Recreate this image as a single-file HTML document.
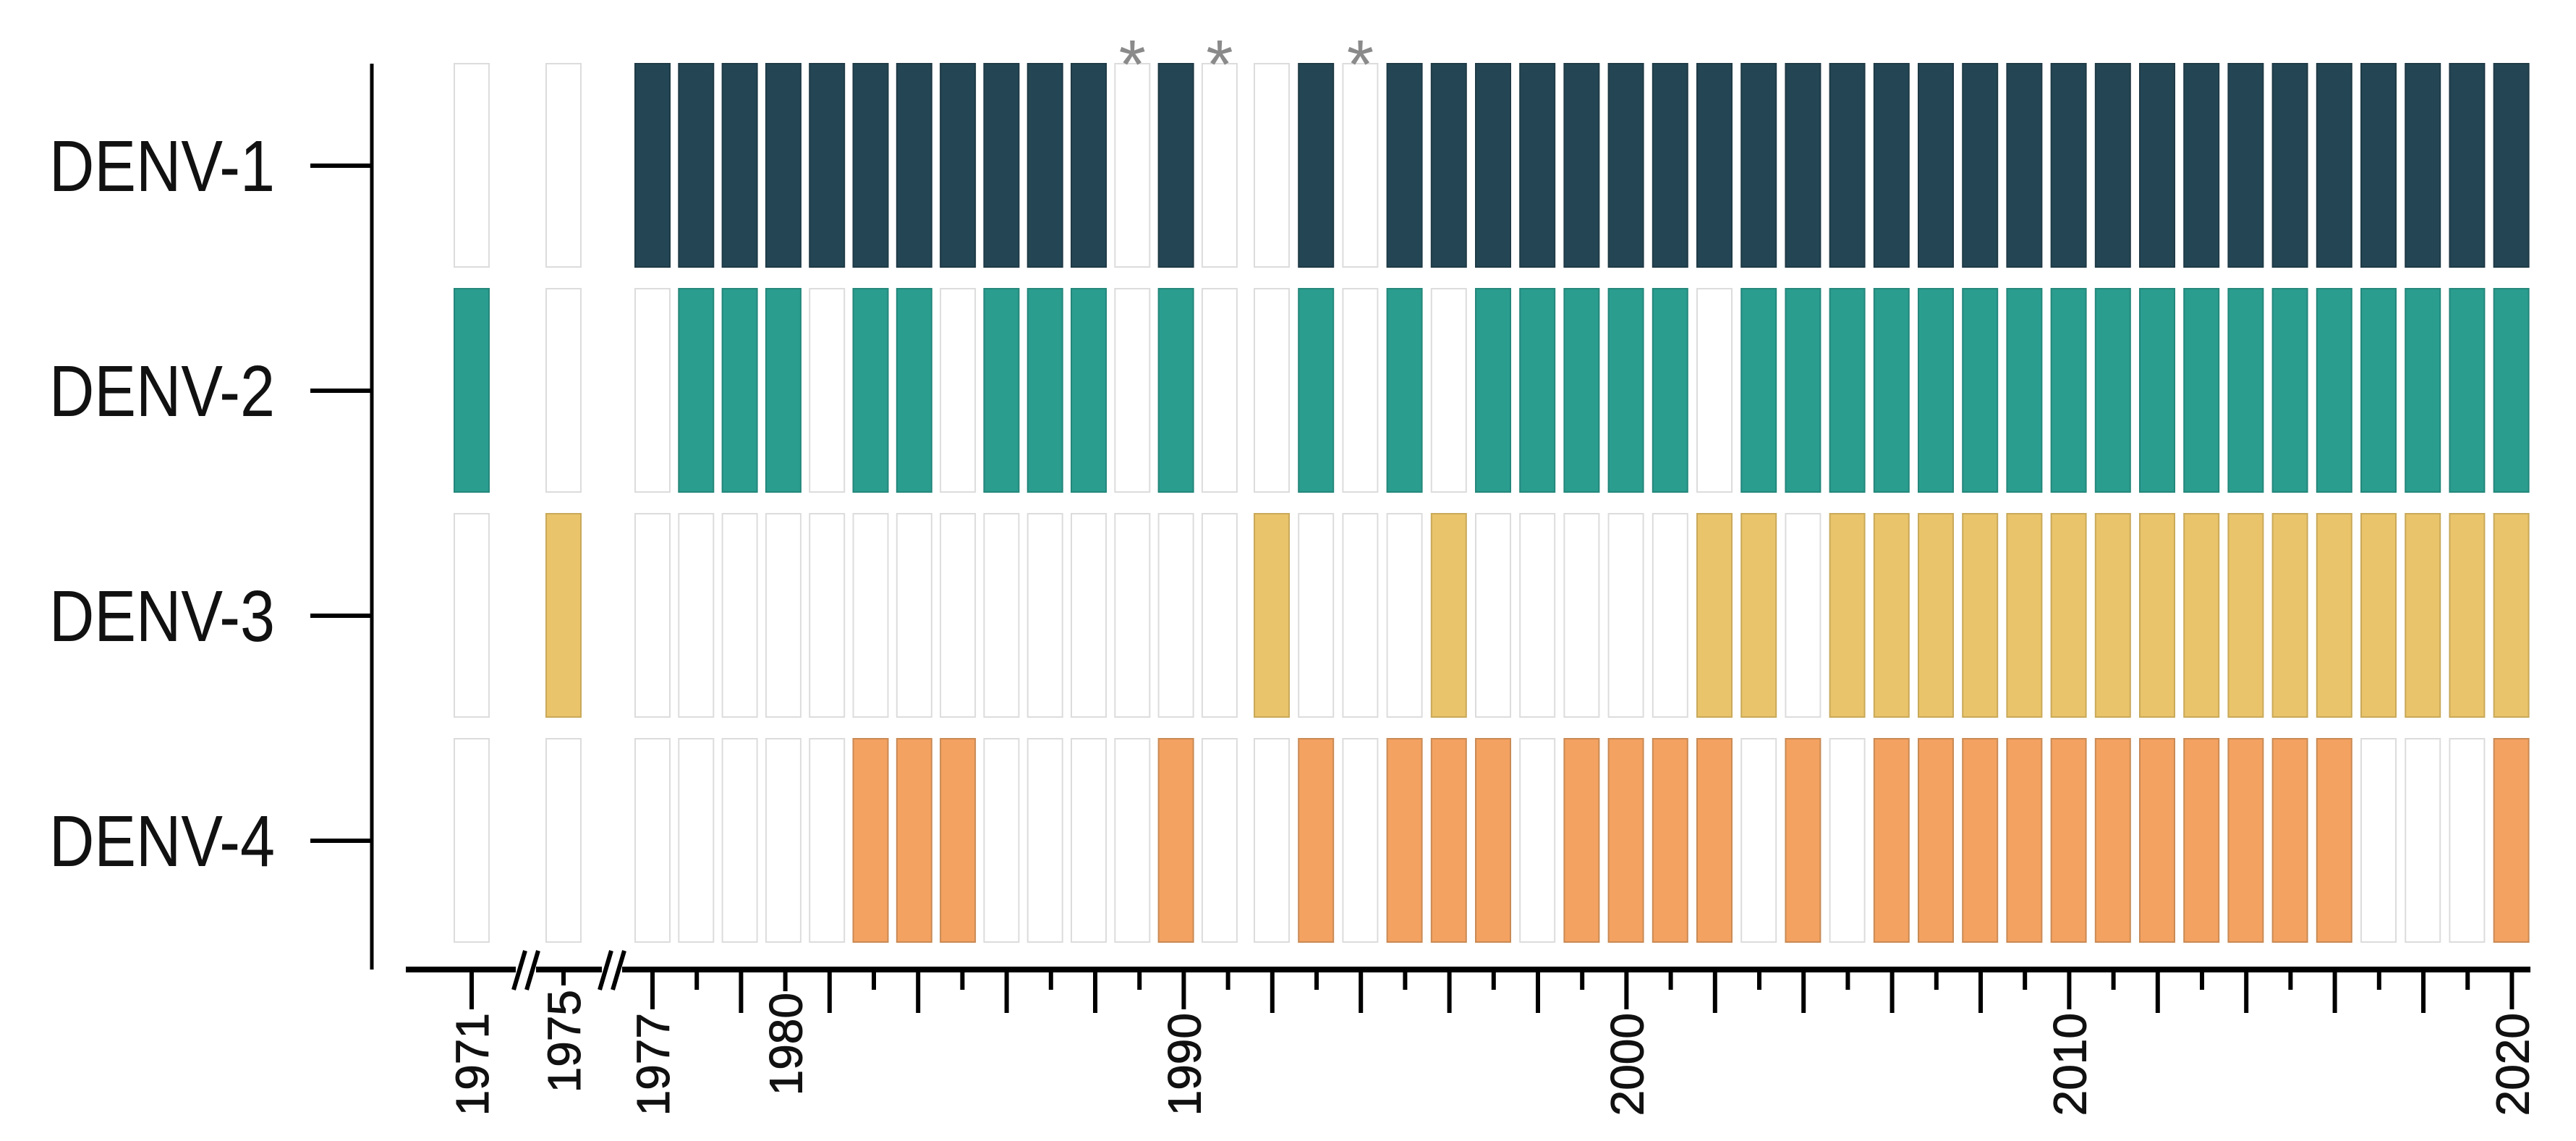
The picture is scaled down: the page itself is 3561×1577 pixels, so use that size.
<!DOCTYPE html>
<html><head><meta charset="utf-8"><style>
html,body{margin:0;padding:0;background:#fff;}
svg{display:block;}
text{font-family:"Liberation Sans",sans-serif;}
</style></head><body>
<svg id="chart" width="3561" height="1577" viewBox="0 0 3561 1577" xmlns="http://www.w3.org/2000/svg"></svg>
<script>
const years = [1971,1975,1977,1978,1979,1980,1982,1983,1984,1985,1986,1987,1988,1989,1990,1991,1992,1993,1994,1995,1996,1997,1998,1999,2000,2001,2002,2003,2004,2005,2006,2007,2008,2009,2010,2011,2012,2013,2014,2015,2016,2017,2018,2019,2020];
const serotypes = ["DENV-1","DENV-2","DENV-3","DENV-4"];
const denv1 = [0,0, 1,1,1,1,1,1,1,1,1,1,1,0,1,0,0,1,0,1,1,1,1,1,1,1,1,1,1,1,1,1,1,1,1,1,1,1,1,1,1,1,1,1,1];
const denv2 = [1,0, 0,1,1,1,0,1,1,0,1,1,1,0,1,0,0,1,0,1,0,1,1,1,1,1,0,1,1,1,1,1,1,1,1,1,1,1,1,1,1,1,1,1,1];
const denv3 = [0,1, 0,0,0,0,0,0,0,0,0,0,0,0,0,0,1,0,0,0,1,0,0,0,0,0,1,1,0,1,1,1,1,1,1,1,1,1,1,1,1,1,1,1,1];
const denv4 = [0,0, 0,0,0,0,0,1,1,1,0,0,0,0,1,0,0,1,0,1,1,1,0,1,1,1,1,0,1,0,1,1,1,1,1,1,1,1,1,1,1,0,0,0,1];
const asteriskYears = [1989,1991,1994];
const tickLabels = ["1971","1975","1977","1980","1990","2000","2010","2020"];
const tickLabelIdx = [-1,-2,0,3,12,22,32,42];

const colors = ["#244654","#2a9d8f","#e9c46a","#f4a261"];
const borders = ["#1f3a46","#24877b","#c9a95a","#c98a55"];
const series = [denv1,denv2,denv3,denv4];
const NS = "http://www.w3.org/2000/svg";
const svg = document.getElementById('chart');
function mk(tag, attrs){const e=document.createElementNS(NS,tag);for(const k in attrs)e.setAttribute(k,attrs[k]);svg.appendChild(e);return e;}

function xBar(i){
  const y = years[i];
  if (y===1971) return 652;
  if (y===1975) return 779;
  const k = i - 2;
  if (k<=13) return 902 + k*60.3;
  return 1758 + (k-14)*61.2;
}
function xTick(i){
  if (i===-1) return 652;
  if (i===-2) return 779;
  return 902 + i*61.2;
}
const rowTop = 87, rowH = 283, rowPitch = 311, barW = 50;
function yRow(r){ return rowTop + r*rowPitch; }

series.forEach((vals, r) => {
  vals.forEach((v, i) => {
    const cx = xBar(i);
    const rect = mk('rect', {x: cx-barW/2+1, y: yRow(r)+1, width: barW-2, height: rowH-2,
      fill: v ? colors[r] : '#ffffff', stroke: v ? borders[r] : '#dcdcdc', 'stroke-width': 2});
    
    
  });
});

asteriskYears.forEach(y => {
  const t = mk('text', {x: xBar(years.indexOf(y)), y: 122, 'text-anchor':'middle', 'font-size': 96, fill:'#8a8a8a'});
  t.textContent = '*';
  
  
});

const yAxis = mk('line', {x1:514, y1:88, x2:514, y2:1340, stroke:'#000', 'stroke-width':5});


serotypes.forEach((s, r) => {
  const cy = yRow(r) + 142;
  const tk = mk('line', {x1:429, y1:cy, x2:514, y2:cy, stroke:'#000', 'stroke-width':6});
  
  
  const t = mk('text', {x:68, y:cy+35, 'font-size':100, fill:'#111', textLength:312, lengthAdjust:'spacingAndGlyphs'});
  t.textContent = s;
  
  
});

const xAxis = mk('line', {x1:561, y1:1340, x2:3498, y2:1340, stroke:'#000', 'stroke-width':8});


[727, 846].forEach((bx) => {
  mk('rect', {x:bx-14, y:1330, width:28, height:20, fill:'#fff'});
  [-9, 9].forEach(d => {
    const l = mk('line', {x1:bx+d-8, y1:1368, x2:bx+d+8, y2:1314, stroke:'#000', 'stroke-width':6});
    
    
  });
});
for (let i = 0; i <= 42; i++) {
  const x = xTick(i);
  const labelled = tickLabelIdx.indexOf(i) >= 0;
  let len = labelled ? 55 : (i % 2 === 0 ? 60 : 28);
  if (i === 3) len = 30;
  const tk = mk('line', {x1:x, y1:1340, x2:x, y2:1340+len, stroke:'#000', 'stroke-width':6});
  
  
}
[-1,-2].forEach(i => {
  const tk = mk('line', {x1:xTick(i), y1:1340, x2:xTick(i), y2:i===-1?1395:1362, stroke:'#000', 'stroke-width':6});
  
  
});
tickLabels.forEach((lab, k) => {
  const x = xTick(tickLabelIdx[k]);
  const top = lab === '1980' ? 1372 : (lab === '1975' ? 1368 : 1400);
  const t = mk('text', {x:0, y:0, 'font-size':64, fill:'#111', 'text-anchor':'end', 'stroke':'#111', 'stroke-width':1,
    transform:'translate(' + (x+23) + ',' + top + ') rotate(-90)'});
  t.textContent = lab;
  
  
});
</script>
</body></html>
